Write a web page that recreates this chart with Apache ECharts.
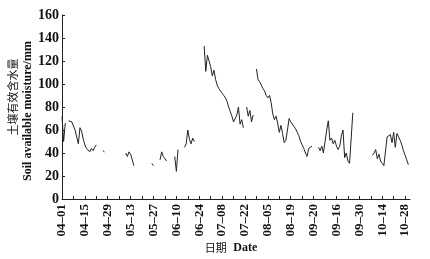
<!DOCTYPE html>
<html>
<head>
<meta charset="utf-8">
<script src="https://cdn.jsdelivr.net/npm/echarts@6/dist/echarts.min.js"></script>
<style>
html,body{margin:0;padding:0;background:#fff;}
#chart{width:430px;height:259px;}
</style>
</head>
<body>
<div id="chart"></div>
<script>
// Tick labels shown every 14 days (as printed in the original figure)
var tickLabels = ['04–01','04–15','04–29','05–13','05–27','06–10','06–24','07–08','07–22','08–05','08–19','09–20','09–16','09–30','10–14','10–28'];

// Daily categories 04-01 .. 10-31
var monthDays = [[4,30],[5,31],[6,30],[7,31],[8,31],[9,30],[10,31]];
var categories = [];
monthDays.forEach(function(m){
  for (var d = 1; d <= m[1]; d++) {
    categories.push((m[0] < 10 ? '0' : '') + m[0] + '-' + (d < 10 ? '0' : '') + d);
  }
});

// Soil available moisture (mm), one value per day, null = missing
var moisture = [
  72,50,66,null,68,68,67,66,60,61,
  48,62,59,52,47,44,43,41,44,42,
  45,47,null,null,null,42,41,null,null,null,
  null,null,null,null,null,null,null,null,null,40,
  37,41,39,34,29,null,null,null,null,null,
  null,null,null,null,null,31,29,null,null,null,
  34,41,37,38,33,null,null,null,null,37,
  24,43,null,null,null,45,48,60,52,48,
  53,50,null,null,null,null,null,133,111,125,
  124,115,107,112,104,99,96,96,92,90,
  88,85,80,76,72,67,66,73,80,65,
  69,62,null,80,72,77,67,73,null,113,
  104,102,99,96,94,90,88,90,84,74,
  69,72,66,58,64,57,49,51,60,70,
  67,66,63,61,58,55,50,47,44,40,
  37,44,43,46,null,null,null,45,42,46,
  40,50,60,68,51,53,48,51,46,43,
  46,55,60,36,40,33,31,31,75,null,
  null,null,null,null,null,null,null,null,null,null,
  38,40,43,35,39,33,31,29,28,54,
  53,56,49,58,45,57,54,51,47,42,
  38,34,30,null
];

var yName1 = '土壤有效含水量';
var yName2 = 'Soil available moisture/mm';
var xNameCn = '日期';
var xNameEn = 'Date';

var chart = echarts.init(document.getElementById('chart'), null, {renderer:'canvas'});
var serif = '"Liberation Serif","DejaVu Serif",serif';
chart.setOption({
  animation:false,
  backgroundColor:'#fff',
  grid:{left:62,right:20,top:15,bottom:60,containLabel:false},
  xAxis:{
    type:'category',
    data:categories,
    boundaryGap:false,
    axisLine:{show:true,lineStyle:{color:'#222',width:1}},
    axisTick:{show:true,inside:true,length:3,interval:function(i){return i%7===0;},lineStyle:{color:'#222'}},
    axisLabel:{
      interval:function(i){return i%14===0;},
      formatter:function(v,i){return tickLabels[i/14];},
      rotate:90,margin:5,
      fontFamily:serif,fontSize:13,fontWeight:'bold',color:'#111'
    },
    splitLine:{show:false}
  },
  yAxis:{
    type:'value',min:0,max:160,interval:20,
    axisLine:{show:true,lineStyle:{color:'#222',width:1}},
    axisTick:{show:true,inside:true,length:3,lineStyle:{color:'#222'}},
    axisLabel:{margin:3,fontFamily:serif,fontSize:14,fontWeight:'bold',color:'#111'},
    splitLine:{show:false}
  },
  graphic:[
    {type:'text',x:12.5,y:97,rotation:Math.PI/2,
     style:{text:yName1,font:'11px "Noto Sans CJK SC"',fill:'#111',textAlign:'center',textVerticalAlign:'middle'}},
    {type:'text',x:27.5,y:111,rotation:Math.PI/2,
     style:{text:yName2,font:'bold 12px "Liberation Serif"',fill:'#111',textAlign:'center',textVerticalAlign:'middle'}},
    {type:'text',x:231,y:248,
     style:{text:'{cn|' + xNameCn + '}  {en|' + xNameEn + '}',textAlign:'center',textVerticalAlign:'middle',
       rich:{cn:{font:'11px "Noto Sans CJK SC"',fill:'#111'},en:{font:'bold 12px "Liberation Serif"',fill:'#111'}}}}
  ],
  series:[{
    type:'line',
    data:moisture,
    showSymbol:false,
    connectNulls:false,
    lineStyle:{color:'#222',width:1},
    emphasis:{disabled:true}
  }]
});
</script>
</body>
</html>
